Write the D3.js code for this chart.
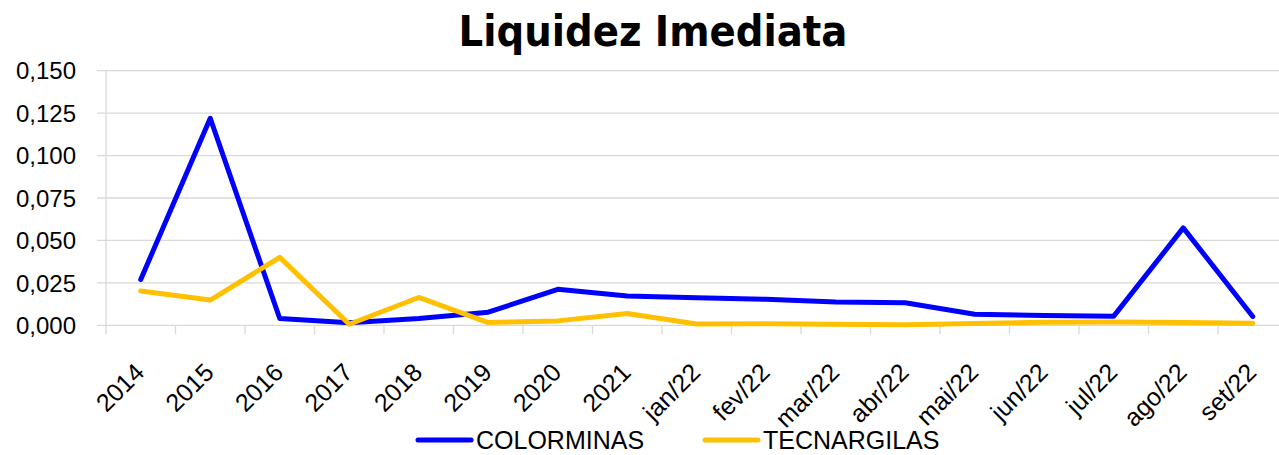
<!DOCTYPE html>
<html>
<head>
<meta charset="utf-8">
<script src="https://cdn.jsdelivr.net/npm/d3@7"></script>
<style>
  body { margin: 0; background: #fff; }
  svg { display: block; }
</style>
</head>
<body>
<svg id="chart" width="1279" height="455"></svg>
<script>
// data
const categories = ['2014','2015','2016','2017','2018','2019','2020','2021',
  'jan/22','fev/22','mar/22','abr/22','mai/22','jun/22','jul/22','ago/22','set/22'];
const colorminas = [0.0270, 0.1220, 0.0040, 0.0015, 0.0040, 0.0077, 0.0212, 0.0173,
  0.0162, 0.0153, 0.0137, 0.0133, 0.0065, 0.0058, 0.0054, 0.0574, 0.0052];
const tecnargilas = [0.0202, 0.0149, 0.0400, 0.0006, 0.0164, 0.0016, 0.0026, 0.0069,
  0.0008, 0.0009, 0.0006, 0.0003, 0.0010, 0.0018, 0.0020, 0.0016, 0.0012];
const yTicks = [0, 0.025, 0.05, 0.075, 0.1, 0.125, 0.15];

const seriesNames = ['COLORMINAS', 'TECNARGILAS'];
const seriesColors = ['#0000ff', '#ffc000'];

const svg = d3.select('#chart');
const plotLeft = 106, plotTop = 70.7, plotBottom = 325.3, step = 69.5;

const x = d3.scaleBand()
  .domain(categories)
  .range([plotLeft, plotLeft + step * categories.length])
  .paddingInner(0).paddingOuter(0);
const y = d3.scaleLinear().domain([0, 0.15]).range([plotBottom, plotTop]);
const fmt = v => d3.format('.3f')(v).replace('.', ',');

// title
svg.append('text')
  .attr('x', 653).attr('y', 46)
  .attr('text-anchor', 'middle')
  .style('font-family', 'DejaVu Sans')
  .style('font-stretch', 'condensed')
  .style('font-weight', 'bold')
  .style('font-size', '43px')
  .text('Liquidez Imediata');

// gridlines
svg.append('g')
  .selectAll('line')
  .data(yTicks)
  .enter()
  .append('line')
  .attr('x1', plotLeft - 9).attr('x2', 1279)
  .attr('y1', d => y(d)).attr('y2', d => y(d))
  .attr('stroke', '#d9d9d9').attr('stroke-width', 1.3);

// y axis line
svg.append('line')
  .attr('x1', plotLeft).attr('x2', plotLeft)
  .attr('y1', plotTop).attr('y2', plotBottom + 9)
  .attr('stroke', '#d9d9d9').attr('stroke-width', 1.3);

// x tick marks at category boundaries
svg.append('g')
  .selectAll('line')
  .data(categories)
  .enter()
  .append('line')
  .attr('x1', d => x(d) + x.bandwidth()).attr('x2', d => x(d) + x.bandwidth())
  .attr('y1', plotBottom).attr('y2', plotBottom + 9)
  .attr('stroke', '#d9d9d9').attr('stroke-width', 1.3);

// y labels
svg.append('g')
  .selectAll('text')
  .data(yTicks)
  .enter()
  .append('text')
  .attr('x', 76).attr('y', d => y(d))
  .attr('dy', '0.36em')
  .attr('text-anchor', 'end')
  .style('font-family', 'Liberation Sans')
  .style('font-size', '24px')
  .text(fmt);

// x labels
svg.append('g')
  .selectAll('text')
  .data(categories)
  .enter()
  .append('text')
  .attr('transform', d => `translate(${x(d) + x.bandwidth() / 2 + 5},374) rotate(-45)`)
  .attr('text-anchor', 'end')
  .style('font-family', 'Liberation Sans')
  .style('font-size', '25px')
  .text(d => d);

// lines
const line = d3.line()
  .x((d, i) => x(categories[i]) + x.bandwidth() / 2)
  .y(d => y(d));

[colorminas, tecnargilas].forEach((vals, k) => {
  svg.append('path')
    .datum(vals)
    .attr('d', line)
    .attr('fill', 'none')
    .attr('stroke', seriesColors[k])
    .attr('stroke-width', 5)
    .attr('stroke-linejoin', 'round')
    .attr('stroke-linecap', 'round');
});

// legend
const legendX = [418, 705];
seriesNames.forEach((name, k) => {
  const g = svg.append('g').attr('transform', `translate(${legendX[k]},440)`);
  g.append('line')
    .attr('x1', 0).attr('x2', 53)
    .attr('stroke', seriesColors[k]).attr('stroke-width', 5)
    .attr('stroke-linecap', 'round');
  g.append('text')
    .attr('x', 58).attr('y', 8.5)
    .style('font-family', 'Liberation Sans')
    .style('font-size', '25px')
    .text(name);
});
</script>
</body>
</html>
